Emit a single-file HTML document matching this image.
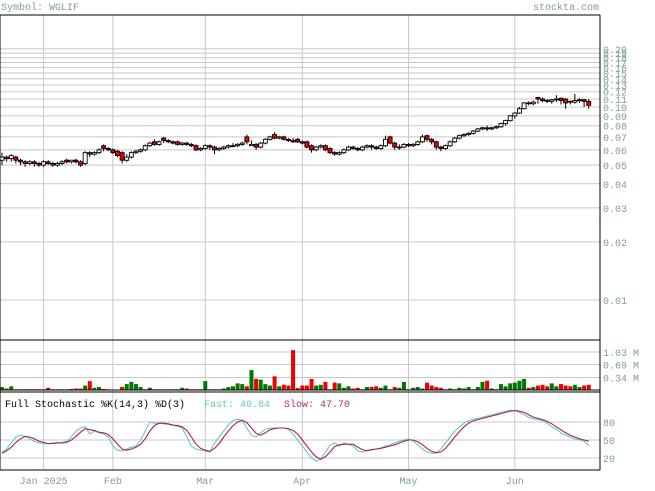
<!DOCTYPE html>
<html><head><meta charset="utf-8"><style>
body{margin:0;background:#fff;width:655px;height:486px;overflow:hidden}
svg text{font-family:"Liberation Mono",monospace;font-size:10px}
</style></head><body>
<svg id="c" width="655" height="486" viewBox="0 0 655 486" xmlns="http://www.w3.org/2000/svg">
<text x="1" y="10" fill="#7fa08e">Symbol: WGLIF</text>
<text x="599" y="10" fill="#7fa08e" text-anchor="end">stockta.com</text>
<g id="grid"></g><g id="marks"></g><g id="axes"></g>
<text x="5" y="407" fill="#000">Full Stochastic %K(14,3) %D(3)</text>
<text x="204" y="407" fill="#66ccbb">Fast: 40.84</text>
<text x="284" y="407" fill="#aa3366">Slow: 47.70</text>
</svg>
<script>
const opens=[0.053,0.055,0.054,0.055,0.053,0.052,0.051,0.052,0.051,0.050,0.052,0.051,0.050,0.051,0.053,0.052,0.053,0.052,0.051,0.058,0.057,0.058,0.063,0.061,0.060,0.059,0.058,0.053,0.055,0.058,0.059,0.060,0.063,0.066,0.064,0.069,0.067,0.066,0.066,0.064,0.065,0.064,0.063,0.060,0.061,0.063,0.062,0.060,0.061,0.062,0.063,0.063,0.064,0.070,0.063,0.064,0.062,0.065,0.068,0.072,0.069,0.070,0.068,0.067,0.068,0.066,0.066,0.063,0.060,0.062,0.063,0.061,0.058,0.057,0.058,0.060,0.062,0.061,0.060,0.062,0.063,0.062,0.061,0.063,0.070,0.065,0.062,0.062,0.064,0.063,0.064,0.066,0.071,0.068,0.066,0.062,0.061,0.063,0.066,0.069,0.071,0.072,0.073,0.075,0.077,0.078,0.077,0.078,0.079,0.082,0.085,0.090,0.093,0.098,0.105,0.104,0.112,0.110,0.108,0.107,0.109,0.111,0.110,0.107,0.106,0.108,0.109,0.107];
const closes=[0.055,0.054,0.056,0.053,0.052,0.051,0.052,0.051,0.050,0.052,0.051,0.050,0.051,0.052,0.052,0.053,0.052,0.050,0.058,0.057,0.058,0.060,0.061,0.060,0.058,0.056,0.053,0.055,0.058,0.059,0.060,0.063,0.065,0.064,0.066,0.067,0.066,0.065,0.064,0.065,0.064,0.063,0.060,0.061,0.063,0.062,0.060,0.061,0.062,0.063,0.063,0.064,0.065,0.066,0.064,0.062,0.065,0.068,0.070,0.069,0.070,0.068,0.067,0.066,0.066,0.065,0.062,0.060,0.062,0.063,0.060,0.058,0.057,0.058,0.060,0.062,0.061,0.060,0.062,0.063,0.062,0.061,0.063,0.068,0.065,0.062,0.062,0.064,0.063,0.064,0.066,0.070,0.068,0.066,0.062,0.061,0.063,0.066,0.069,0.071,0.072,0.073,0.075,0.077,0.078,0.077,0.078,0.079,0.082,0.085,0.090,0.093,0.098,0.105,0.104,0.106,0.110,0.108,0.107,0.109,0.110,0.108,0.105,0.106,0.108,0.109,0.107,0.102];
const highs=[0.058,0.056,0.057,0.056,0.054,0.053,0.053,0.053,0.052,0.053,0.053,0.052,0.052,0.053,0.054,0.053,0.054,0.053,0.059,0.059,0.059,0.061,0.064,0.062,0.061,0.060,0.059,0.057,0.059,0.060,0.061,0.064,0.066,0.068,0.067,0.070,0.068,0.067,0.067,0.066,0.066,0.065,0.064,0.062,0.064,0.064,0.063,0.062,0.063,0.064,0.065,0.065,0.066,0.072,0.067,0.065,0.066,0.069,0.071,0.074,0.071,0.071,0.069,0.069,0.069,0.067,0.067,0.064,0.063,0.064,0.064,0.062,0.059,0.059,0.061,0.063,0.063,0.062,0.063,0.064,0.064,0.063,0.064,0.071,0.071,0.066,0.064,0.065,0.065,0.065,0.067,0.072,0.072,0.069,0.067,0.063,0.064,0.067,0.070,0.072,0.073,0.074,0.076,0.078,0.079,0.080,0.079,0.080,0.083,0.086,0.091,0.094,0.100,0.106,0.107,0.108,0.113,0.112,0.110,0.110,0.115,0.112,0.111,0.108,0.117,0.111,0.110,0.110];
const lows=[0.050,0.052,0.052,0.051,0.050,0.049,0.050,0.049,0.049,0.049,0.050,0.049,0.049,0.050,0.051,0.051,0.051,0.049,0.050,0.055,0.056,0.057,0.059,0.059,0.057,0.055,0.051,0.052,0.054,0.057,0.058,0.059,0.062,0.063,0.063,0.065,0.065,0.064,0.063,0.063,0.063,0.062,0.059,0.059,0.060,0.060,0.057,0.059,0.060,0.061,0.062,0.062,0.063,0.064,0.063,0.060,0.061,0.064,0.067,0.068,0.068,0.067,0.066,0.065,0.065,0.064,0.061,0.058,0.059,0.061,0.059,0.057,0.056,0.056,0.057,0.059,0.060,0.059,0.059,0.061,0.060,0.060,0.060,0.062,0.064,0.060,0.060,0.061,0.062,0.062,0.063,0.065,0.066,0.064,0.060,0.059,0.060,0.062,0.065,0.068,0.070,0.071,0.072,0.074,0.076,0.075,0.076,0.077,0.078,0.080,0.084,0.087,0.092,0.097,0.102,0.102,0.104,0.106,0.105,0.104,0.106,0.103,0.098,0.103,0.104,0.105,0.100,0.098];
const volumes=[.08,.04,.10,.02,.02,.02,.02,.02,.02,.02,.06,.02,.02,.02,.02,.03,.04,.04,.12,.24,.06,.08,.03,.02,.01,.01,.08,.16,.22,.16,.08,.02,.06,.02,.02,.02,.02,.02,.02,.06,.04,.02,.02,.02,.24,.02,.02,.02,.04,.08,.10,.18,.16,.10,.54,.30,.28,.16,.12,.37,.10,.14,.12,1.08,.05,.12,.12,.30,.12,.14,.22,.02,.20,.18,.06,.10,.04,.06,.02,.08,.08,.10,.06,.12,.02,.08,.06,.22,.02,.06,.08,.04,.20,.12,.08,.06,.02,.04,.02,.06,.04,.08,.02,.08,.22,.25,.04,.02,.16,.10,.18,.20,.25,.30,.06,.08,.12,.14,.10,.18,.10,.16,.12,.10,.14,.08,.12,.14];
const stochK=[30,35,45,55,58,56,52,48,45,44,44,45,46,46,48,55,65,70,72,60,65,62,60,55,40,33,32,35,38,40,50,65,80,78,78,77,76,74,73,70,55,40,35,33,32,30,45,55,65,75,82,85,82,70,58,55,62,68,70,70,70,70,68,60,50,40,30,20,15,18,30,42,45,40,45,43,40,32,30,33,33,35,37,40,42,45,48,50,52,48,42,35,30,28,28,35,45,55,65,72,78,82,85,86,88,90,92,94,96,98,100,99,96,92,88,85,84,82,78,72,68,62,58,55,52,50,48,41];
const stochD=[28,32,38,46,52,56,55,52,48,46,44,44,45,45,46,50,56,63,69,67,66,63,62,59,52,43,35,33,35,38,43,52,65,74,78,78,77,75,74,72,66,55,43,36,33,31,36,44,55,65,74,80,83,79,70,61,58,62,67,69,70,70,69,66,60,50,40,30,22,18,22,30,39,42,43,43,43,38,34,32,34,35,36,38,40,42,45,48,50,50,47,42,36,31,29,30,36,45,55,64,72,78,82,84,86,88,90,92,94,96,98,99,98,96,92,88,86,84,81,77,72,67,62,58,55,52,50,48];
const priceTicks=[0.01,0.02,0.03,0.04,0.05,0.06,0.07,0.08,0.09,0.10,0.11,0.12,0.13,0.14,0.15,0.16,0.17,0.18,0.19,0.20];
const volTicks=[0.34,0.69,1.03];
const stochTicks=[20,50,80];
const monthLabels=["Jan 2025","Feb","Mar","Apr","May","Jun"];
const monthIdx=[9,24,44,65,88,111];

const NS="http://www.w3.org/2000/svg";
const X=i=>2+i*4.62;
const Y=v=>107-(Math.log10(v)+1)*193;
const VY=v=>390-v*(38/1.03);
const SY=v=>470-v*0.6;
const grid=document.getElementById('grid'),marks=document.getElementById('marks'),axes=document.getElementById('axes');
function mk(p,tag,a){const e=document.createElementNS(NS,tag);for(const k in a)e.setAttribute(k,a[k]);p.appendChild(e);return e;}
const G='#c8c8c8',LBL='#7fa08e';
priceTicks.forEach(t=>{
  const l=mk(grid,'line',{x1:0,x2:600,y1:Y(t),y2:Y(t),stroke:G});
  
  
  const tx=mk(axes,'text',{x:603,y:Y(t)+4,fill:LBL});tx.textContent=t.toFixed(2);
  
  
});
volTicks.forEach(t=>{
  const l=mk(grid,'line',{x1:0,x2:600,y1:VY(t),y2:VY(t),stroke:G});
  
  
  const tx=mk(axes,'text',{x:603,y:VY(t)+4,fill:LBL});tx.textContent=t.toFixed(2)+' M';
  
  
});
stochTicks.forEach(t=>{
  const l=mk(grid,'line',{x1:0,x2:600,y1:SY(t),y2:SY(t),stroke:G});
  
  
  const tx=mk(axes,'text',{x:603,y:SY(t)+4,fill:LBL});tx.textContent=t;
  
  
});
monthIdx.forEach((m,k)=>{
  const x=X(m);
  const l=mk(grid,'line',{x1:x,x2:x,y1:15,y2:470,stroke:G});
  
  
  const tx=mk(axes,'text',{x:x,y:484,fill:LBL,'text-anchor':'middle'});tx.textContent=monthLabels[k];
  
  
});
[[0,15,600,15],[0,15,0,470],[600,15,600,470],[0,340,600,340],[0,390,600,390],[0,392,600,392],[0,470,600,470]].forEach(a=>{
  const l=mk(axes,'line',{x1:a[0],y1:a[1],x2:a[2],y2:a[3],stroke:'#000'});
  
  
});
closes.forEach((c,i)=>{
  const o=opens[i],x=X(i),down=c<o;
  const w=mk(marks,'line',{x1:x,x2:x,y1:Y(highs[i]),y2:Y(lows[i]),stroke:'#000'});
  
  
  const top=Y(Math.max(o,c)),bot=Y(Math.min(o,c));
  const b=mk(marks,'rect',{x:x-2,y:top,width:4,height:Math.max(bot-top,0.8),fill:down?'#ee0000':'#fff',stroke:'#000','stroke-width':0.9});
  
  
  const v=mk(marks,'rect',{x:x-2,y:VY(volumes[i]),width:4,height:390-VY(volumes[i]),fill:down?'#ee0000':'#007700'});
  
  
});
function line(arr,col,name){
  const p=mk(marks,'polyline',{points:arr.map((v,i)=>X(i)+','+SY(v)).join(' '),fill:'none',stroke:col,'stroke-width':1.1});
  
  
}
line(stochK,'#66ccbb','stochastic-k-line');
line(stochD,'#aa2255','stochastic-d-line');
</script>
</body></html>
